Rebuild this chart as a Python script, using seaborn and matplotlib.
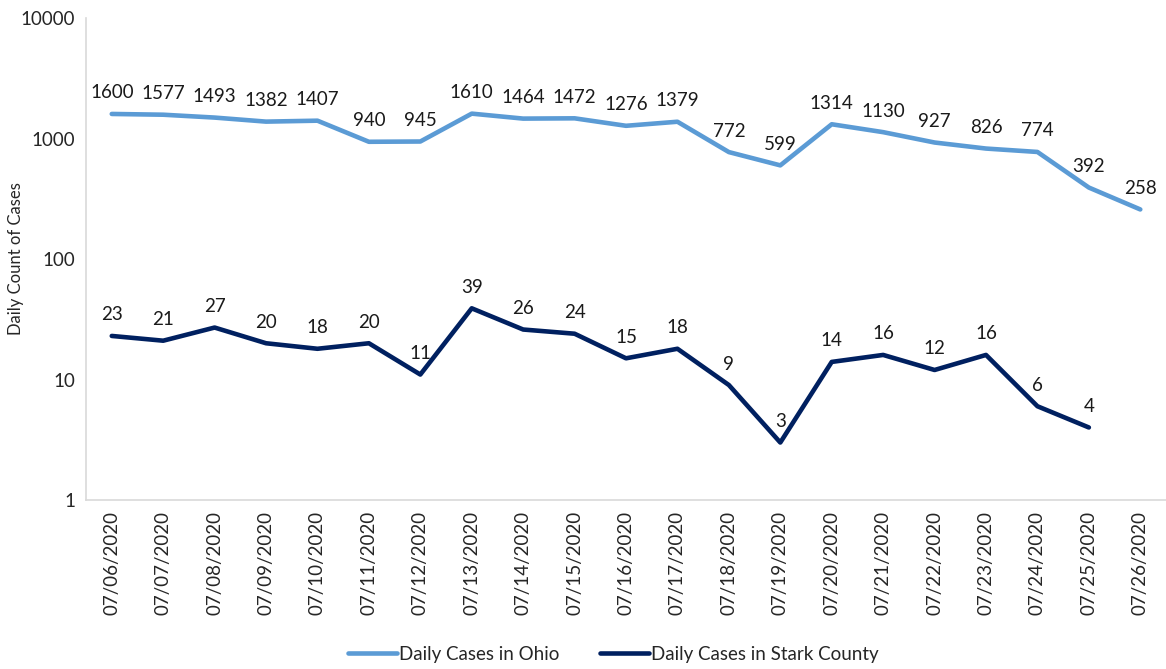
import pandas as pd
import numpy as np
import matplotlib.pyplot as plt
import seaborn as sns

dates = ['07/06/2020', '07/07/2020', '07/08/2020', '07/09/2020', '07/10/2020',
         '07/11/2020', '07/12/2020', '07/13/2020', '07/14/2020', '07/15/2020',
         '07/16/2020', '07/17/2020', '07/18/2020', '07/19/2020', '07/20/2020',
         '07/21/2020', '07/22/2020', '07/23/2020', '07/24/2020', '07/25/2020',
         '07/26/2020']
ohio = [1600, 1577, 1493, 1382, 1407, 940, 945, 1610, 1464, 1472, 1276, 1379,
        772, 599, 1314, 1130, 927, 826, 774, 392, 258]
stark = [23, 21, 27, 20, 18, 20, 11, 39, 26, 24, 15, 18, 9, 3, 14, 16, 12, 16,
         6, 4]

ohio_name = 'Daily Cases in Ohio'
stark_name = 'Daily Cases in Stark County'

df = pd.DataFrame({
    'date': dates + dates[:len(stark)],
    'cases': ohio + stark,
    'series': [ohio_name] * len(ohio) + [stark_name] * len(stark),
})
df['pos'] = df['date'].map({d: i for i, d in enumerate(dates)})

sns.set_style("white")
plt.rcParams['font.family'] = ['Lato', 'DejaVu Sans']

fig = plt.figure(figsize=(11.66, 6.69), dpi=100)
ax = fig.add_axes([0.0738, 0.2526, 0.9262, 0.7204])

palette = {ohio_name: '#5B9BD5', stark_name: '#002060'}
sns.lineplot(data=df, x='pos', y='cases', hue='series', palette=palette,
             linewidth=3.3, ax=ax, legend=True, solid_capstyle='round')

ax.set_yscale('log')
ax.set_ylim(1, 10000)
ax.set_xlim(-0.5, len(dates) - 0.5)
ax.set_yticks([1, 10, 100, 1000, 10000])
ax.set_yticklabels(['1', '10', '100', '1000', '10000'], fontsize=13.5)
ax.yaxis.set_minor_locator(plt.NullLocator())
ax.set_xticks(range(len(dates)))
ax.set_xticklabels(dates, rotation=90, fontsize=13.5)
ax.tick_params(axis='both', length=0, pad=8)
ax.set_xlabel('')
ax.set_ylabel('Daily Count of Cases', fontsize=12)
ax.yaxis.set_label_coords(-0.057, 0.5)

for s in ['top', 'right']:
    ax.spines[s].set_visible(False)
for s in ['left', 'bottom']:
    ax.spines[s].set_color('#D9D9D9')
    ax.spines[s].set_linewidth(1.2)

# data labels
for vals in (ohio, stark):
    for i, v in enumerate(vals):
        ax.annotate(str(v), (i, v), xytext=(0, 9), textcoords='offset points',
                    ha='center', va='bottom', fontsize=13.5, color='#1a1a1a')

handles, labels = ax.get_legend_handles_labels()
ax.get_legend().remove()
fig.legend(handles, labels, loc='center', bbox_to_anchor=(0.526, 0.022), ncol=2,
           frameon=False, fontsize=13.5, handlelength=2.6, handletextpad=0.1,
           columnspacing=2.2)

plt.savefig('out.png', dpi=100)
